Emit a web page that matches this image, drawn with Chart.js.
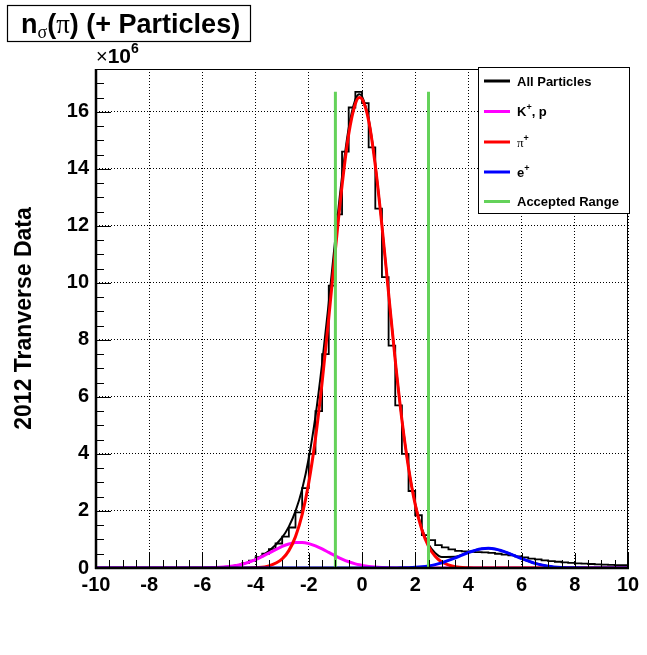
<!DOCTYPE html>
<html><head><meta charset="utf-8">
<script src="https://cdn.jsdelivr.net/npm/chart.js@4/dist/chart.umd.min.js"></script>
<style>html,body{margin:0;padding:0;background:#fff;}canvas{display:block;}</style>
</head><body>
<canvas id="c" width="647" height="655"></canvas>
<script>
// ---- data ----
const histStart = -10;
const binWidth = 0.25;
// All Particles histogram (units of 10^6), 80 bins from -10 to 10
const histCounts = [
  0,0,0,0,0,0,0,0,0,0,0,0,0,0,0,0,0,0,0,
  0.02,0.05,0.1,0.17,0.26,0.38,0.5,0.66,0.86,1.1,1.42,1.95,2.8,4.0,5.5,7.5,9.9,12.4,14.6,16.15,16.7,
  16.3,14.75,12.6,10.2,7.8,5.7,4.0,2.7,1.85,1.15,0.98,0.8,0.72,0.65,0.6,0.58,0.57,0.56,0.55,0.53,
  0.5,0.47,0.44,0.41,0.37,0.33,0.3,0.27,0.24,0.22,0.2,0.18,0.16,0.15,0.14,0.13,0.12,0.11,0.1,0.1
];
const fitX = [-10,-6,-5.5,-5,-4.5,-4,-3.5,-3,-2.75,-2.5,-2.25,-2,-1.75,-1.5,-1.25,-1,-0.75,-0.5,-0.25,-0.1,
  0,0.25,0.5,0.75,1,1.25,1.5,1.75,2,2.25,2.5,2.75,3,3.5,4,4.5,4.75,5,5.5,6,6.5,7,7.5,8,8.5,10];
const fitPion = [0,0,0,0,0.002,0.014,0.074,0.32,0.61,1.10,1.87,3.0,4.54,6.5,8.76,11.16,13.41,15.21,16.28,16.5,
  16.45,15.69,14.12,12.0,9.63,7.28,5.2,3.51,2.23,1.34,0.76,0.41,0.21,0.044,0.007,0,0,0,0,0,0,0,0,0,0,0];
const fitKaonProton = [0,0.004,0.015,0.05,0.133,0.292,0.521,0.756,0.842,0.892,0.896,0.856,0.776,0.668,0.546,0.424,0.312,0.219,0.146,0.111,
  0.092,0.055,0.031,0.017,0.009,0.004,0.002,0.001,0,0,0,0,0,0,0,0,0,0,0,0,0,0,0,0,0,0];
const fitElectron = [0,0,0,0,0,0,0,0,0,0,0,0,0,0,0,0,0,0,0,0,
  0,0,0,0,0.001,0.003,0.006,0.013,0.024,0.043,0.074,0.119,0.18,0.351,0.545,0.675,0.69,0.666,0.524,0.328,0.164,0.065,0.021,0.005,0.001,0];
const fitTotal = [0,0.004,0.015,0.05,0.135,0.306,0.595,1.076,1.452,1.992,2.766,3.856,5.316,7.168,9.306,11.584,13.722,15.429,16.426,16.611,
  16.542,15.745,14.151,12.017,9.64,7.287,5.208,3.524,2.254,1.383,0.834,0.529,0.39,0.395,0.552,0.675,0.69,0.666,0.524,0.328,0.164,0.065,0.021,0.005,0.001,0];
const acceptedRange = [-1, 2.5];
const acceptedTop = 16.7;
const legendLabels = ['All Particles', 'K+, p', 'π+', 'e+', 'Accepted Range'];

const FONT = "'Liberation Sans', Arial, sans-serif";
const SERIF = "'Liberation Serif', 'DejaVu Serif', serif";
const GREEN = 'rgb(100,210,90)';

const histData = histCounts.map((v, i) => ({x: histStart + i * binWidth, y: v}));
histData.push({x: histStart + histCounts.length * binWidth, y: histCounts[histCounts.length - 1]});
const curve = arr => fitX.map((x, i) => ({x: x, y: arr[i]}));

function rich(ctx, x, y, segs) {
  for (const s of segs) {
    ctx.font = s.f;
    ctx.fillText(s.t, x, y + (s.dy || 0));
    x += ctx.measureText(s.t).width + (s.sp || 0);
  }
  return x;
}

const deco = {
  id: 'deco',
  beforeDraw(chart) {
    const c = chart.ctx;
    c.save(); c.fillStyle = '#fff'; c.fillRect(0, 0, chart.width, chart.height); c.restore();
  },
  afterDatasetsDraw(chart) {
    const c = chart.ctx, a = chart.chartArea, xs = chart.scales.x, ys = chart.scales.y;
    c.save();
    c.strokeStyle = '#000';
    c.lineWidth = 1;
    c.beginPath();
    for (let v = 0; v <= 17.5 + 1e-9; v += 0.5) {
      const py = Math.round(ys.getPixelForValue(v)) + 0.5;
      const len = (Math.abs(v % 2) < 1e-9) ? 15 : 8;
      c.moveTo(a.left, py); c.lineTo(a.left + len, py);
    }
    for (let v = -10; v <= 10 + 1e-9; v += 0.5) {
      const px = Math.round(xs.getPixelForValue(v)) + 0.5;
      const len = (Math.abs(v % 2) < 1e-9) ? 15 : 8;
      c.moveTo(px, a.bottom); c.lineTo(px, a.bottom - len);
    }
    c.stroke();
    c.lineWidth = 1;
    c.strokeRect(a.left + 0.5, a.top + 0.5, a.right - a.left - 1, a.bottom - a.top);
    c.lineWidth = 2.5;
    c.beginPath();
    c.moveTo(a.left, a.top); c.lineTo(a.left, a.bottom + 1);
    c.moveTo(a.left - 1, a.bottom); c.lineTo(a.right + 1, a.bottom);
    c.stroke();
    c.restore();
  },
  afterDraw(chart) {
    const c = chart.ctx, a = chart.chartArea;
    c.save();
    c.fillStyle = '#fff';
    c.fillRect(7.5, 5.5, 243, 36);
    c.lineWidth = 1.2; c.strokeStyle = '#000';
    c.strokeRect(7.5, 5.5, 243, 36);
    c.fillStyle = '#000';
    c.textBaseline = 'alphabetic';
    c.textAlign = 'left';
    rich(c, 21, 32.5, [
      {t: 'n', f: 'bold 27px ' + FONT},
      {t: 'σ', f: '18px ' + SERIF, dy: 5},
      {t: '(', f: 'bold 27px ' + FONT},
      {t: 'π', f: '27px ' + SERIF},
      {t: ') (+ Particles)', f: 'bold 27px ' + FONT}
    ]);
    rich(c, 96, 63, [
      {t: '×', f: '20px ' + FONT},
      {t: '10', f: 'bold 21px ' + FONT},
      {t: '6', f: 'bold 14px ' + FONT, dy: -10}
    ]);
    c.save();
    c.translate(25, (a.top + a.bottom) / 2);
    c.rotate(-Math.PI / 2);
    c.textAlign = 'center'; c.textBaseline = 'middle';
    c.font = 'bold 23px ' + FONT;
    c.fillText('2012 Tranverse Data', 0, 0);
    c.restore();
    const L = 478.5, T = 67.5, W = 151, H = 146;
    c.fillStyle = '#fff'; c.fillRect(L, T, W, H);
    c.lineWidth = 1; c.strokeStyle = '#000'; c.strokeRect(L, T, W, H);
    const rows = [81, 111.5, 142, 172, 201.5];
    const cols = ['#000', '#ff00ff', '#ff0000', '#0000ff', GREEN];
    const segsList = [
      [{t: 'All Particles', f: 'bold 13px ' + FONT}],
      [{t: 'K', f: 'bold 13px ' + FONT}, {t: '+', f: 'bold 9px ' + FONT, dy: -6}, {t: ', p', f: 'bold 13px ' + FONT}],
      [{t: 'π', f: '13px ' + SERIF}, {t: '+', f: 'bold 9px ' + FONT, dy: -6}],
      [{t: 'e', f: 'bold 13px ' + FONT}, {t: '+', f: 'bold 9px ' + FONT, dy: -6}],
      [{t: 'Accepted Range', f: 'bold 13px ' + FONT}]
    ];
    for (let i = 0; i < rows.length; i++) {
      c.strokeStyle = cols[i]; c.lineWidth = 3;
      c.beginPath(); c.moveTo(484, rows[i]); c.lineTo(510, rows[i]); c.stroke();
      c.fillStyle = '#000'; c.textBaseline = 'alphabetic';
      rich(c, 517, rows[i] + 4.5, segsList[i]);
    }
    c.restore();
  }
};

const tickFont = {family: FONT, size: 20, weight: 'bold'};
new Chart(document.getElementById('c').getContext('2d'), {
  type: 'line',
  data: {
    datasets: [
      {label: 'acc-lo', data: [{x: acceptedRange[0], y: 0}, {x: acceptedRange[0], y: acceptedTop}], borderColor: GREEN, borderWidth: 3, order: 0},
      {label: 'acc-hi', data: [{x: acceptedRange[1], y: 0}, {x: acceptedRange[1], y: acceptedTop}], borderColor: GREEN, borderWidth: 3, order: 0},
      {label: legendLabels[3], data: curve(fitElectron), borderColor: '#0000ff', borderWidth: 3, cubicInterpolationMode: 'monotone', order: 1},
      {label: legendLabels[2], data: curve(fitPion), borderColor: '#ff0000', borderWidth: 3, cubicInterpolationMode: 'monotone', order: 2},
      {label: legendLabels[1], data: curve(fitKaonProton), borderColor: '#ff00ff', borderWidth: 3, cubicInterpolationMode: 'monotone', order: 3},
      {label: 'total fit', data: curve(fitTotal), borderColor: '#000', borderWidth: 2, cubicInterpolationMode: 'monotone', order: 4},
      {label: legendLabels[0], data: histData, borderColor: '#000', borderWidth: 1.8, stepped: 'before', order: 5}
    ]
  },
  options: {
    responsive: false, animation: false, devicePixelRatio: 1,
    layout: {padding: {top: 69, right: 19, left: 0, bottom: 0}},
    elements: {point: {radius: 0}, line: {fill: false}},
    plugins: {legend: {display: false}, tooltip: {enabled: false}, title: {display: false}},
    scales: {
      x: {
        type: 'linear', min: -10, max: 10,
        afterFit: s => { s.height = 87; },
        ticks: {stepSize: 2, font: tickFont, color: '#000', padding: 5, maxRotation: 0, autoSkip: false, includeBounds: false},
        grid: {color: '#000', lineWidth: 1, drawTicks: false},
        border: {display: false, dash: [1, 2]}
      },
      y: {
        type: 'linear', min: 0, max: 17.5,
        afterFit: s => { s.width = 96; },
        ticks: {stepSize: 2, font: tickFont, color: '#000', padding: 7, includeBounds: false},
        grid: {color: '#000', lineWidth: 1, drawTicks: false},
        border: {display: false, dash: [1, 2]}
      }
    }
  },
  plugins: [deco]
});
</script>
</body></html>
